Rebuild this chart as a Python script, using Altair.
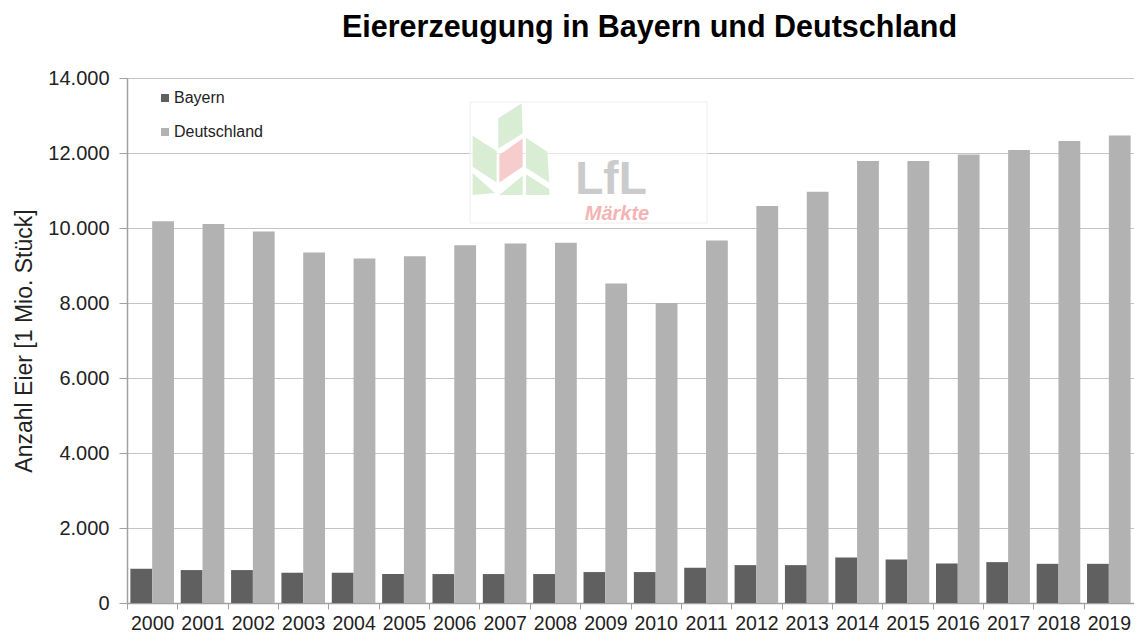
import altair as alt
import pandas as pd

# ---- data ----
years = ["2000", "2001", "2002", "2003", "2004", "2005", "2006", "2007", "2008", "2009",
         "2010", "2011", "2012", "2013", "2014", "2015", "2016", "2017", "2018", "2019"]
bayern = [913, 878, 878, 807, 807, 772, 772, 772, 772, 825,
          825, 940, 1010, 1010, 1213, 1160, 1054, 1090, 1045, 1045]
deutschland = [10180, 10110, 9910, 9350, 9190, 9250, 9540, 9590, 9610, 8520,
               8000, 9670, 10590, 10970, 11790, 11790, 11960, 12080, 12320, 12470]
regions = ["Bayern", "Deutschland"]
colors = ["#606060", "#b2b2b2"]
y_ticks = [0, 2000, 4000, 6000, 8000, 10000, 12000, 14000]

rows = []
for i, y in enumerate(years):
    rows.append({"Jahr": y, "Region": "Bayern", "Wert": bayern[i]})
    rows.append({"Jahr": y, "Region": "Deutschland", "Wert": deutschland[i]})
df = pd.DataFrame(rows)

FONT = "Liberation Sans"
W, H = 1007, 525

bars = alt.Chart(df).mark_bar().encode(
    x=alt.X("Jahr:N", sort=years,
            scale=alt.Scale(paddingInner=0, paddingOuter=0),
            axis=alt.Axis(title=None, labelAngle=0, tickBand="extent", tickSize=6,
                          labelPadding=5, labelFontSize=19.5, labelFont=FONT,
                          labelColor="#222222", domainColor="#a0a0a0", tickColor="#a0a0a0",
                          domainWidth=1.5, grid=False)),
    xOffset=alt.XOffset("Region:N", sort=regions,
                        scale=alt.Scale(paddingInner=0, paddingOuter=0.155)),
    y=alt.Y("Wert:Q", scale=alt.Scale(domain=[0, 14000], nice=False),
            axis=alt.Axis(values=y_ticks,
                          labelExpr="replace(format(datum.value, ',d'), ',', '.')",
                          title="Anzahl Eier [1 Mio. Stück]", titleFont=FONT,
                          titleFontSize=23, titleFontWeight="normal", titleColor="#222222",
                          titleX=-103, titleY=H / 2, titleBaseline="middle", titleAngle=270,
                          tickSize=8, labelPadding=10, labelFontSize=20, labelFont=FONT,
                          labelColor="#222222", domainColor="#a0a0a0", tickColor="#a0a0a0",
                          domainWidth=1.5, grid=True, gridColor="#c4c4c4")),
    color=alt.Color("Region:N", scale=alt.Scale(domain=regions, range=colors),
                    legend=alt.Legend(title=None, orient="none", legendX=30, legendY=12,
                                      symbolType="square", symbolSize=64,
                                      symbolStrokeWidth=0, labelFont=FONT,
                                      labelFontSize=16, labelColor="#222222",
                                      rowPadding=18, labelOffset=1)),
)

# ---- faint LfL watermark (decoration) ----
one = pd.DataFrame({"k": [0]})
logo_box = alt.Chart(one).mark_rect(fill="white", fillOpacity=0.6, stroke="#eeeeee",
                                    strokeWidth=1).encode(
    x=alt.value(343), x2=alt.value(580), y=alt.value(24), y2=alt.value(145))

# leaf outlines (in zoomed logo coordinates), normalized into a [-1,1] symbol path
green_polys = [
    [(115, 70), (185, 25), (188, 115), (115, 160)],
    [(38, 122), (110, 168), (110, 262), (38, 215)],
    [(38, 234), (105, 294), (38, 300)],
    [(198, 128), (262, 170), (268, 262), (198, 218)],
    [(198, 238), (268, 282), (268, 300), (198, 300)],
    [(118, 300), (188, 242), (188, 300)],
]
pink_polys = [[(118, 180), (188, 130), (188, 215), (118, 262)]]
cx, cy, half = 152.5, 162.5, 137.5


def to_path(polys):
    parts = []
    for poly in polys:
        pts = ["%.3f,%.3f" % ((px - cx) / half, (py - cy) / half) for px, py in poly]
        parts.append("M" + "L".join(pts) + "Z")
    return "".join(parts)


leaf_size = (2 * half / 3) ** 2
green = alt.Chart(one).mark_point(shape=to_path(green_polys), filled=True, fill="#d9edd4",
                                  strokeWidth=0, opacity=1, size=leaf_size).encode(
    x=alt.value(383.8), y=alt.value(71.2))
pink = alt.Chart(one).mark_point(shape=to_path(pink_polys), filled=True, fill="#f7cccc",
                                 strokeWidth=0, opacity=1, size=leaf_size).encode(
    x=alt.value(383.8), y=alt.value(71.2))
lfl = alt.Chart(one).mark_text(text="LfL", font=FONT, fontSize=46, fontWeight="bold",
                               color="#cbcbcb", align="center", baseline="alphabetic").encode(
    x=alt.value(484), y=alt.value(116))
maerkte = alt.Chart(one).mark_text(text="Märkte", font=FONT, fontSize=20, fontWeight="bold",
                                   fontStyle="italic", color="#f4b4b4", align="center",
                                   baseline="alphabetic").encode(
    x=alt.value(490), y=alt.value(142))

chart = alt.layer(bars, logo_box, green, pink, lfl, maerkte).properties(
    width=W, height=H,
    title=alt.TitleParams("Eiererzeugung in Bayern und Deutschland", font=FONT,
                          fontSize=30.5, fontWeight="bold", color="#000000",
                          anchor="middle", offset=25, dx=19),
    autosize=alt.AutoSizeParams(type="none"),
    padding={"left": 119, "top": 70, "right": 0, "bottom": 31},
).configure_view(stroke=None).configure(background="white")

chart.save("out.html", embed_options={"renderer": "svg", "actions": False})
